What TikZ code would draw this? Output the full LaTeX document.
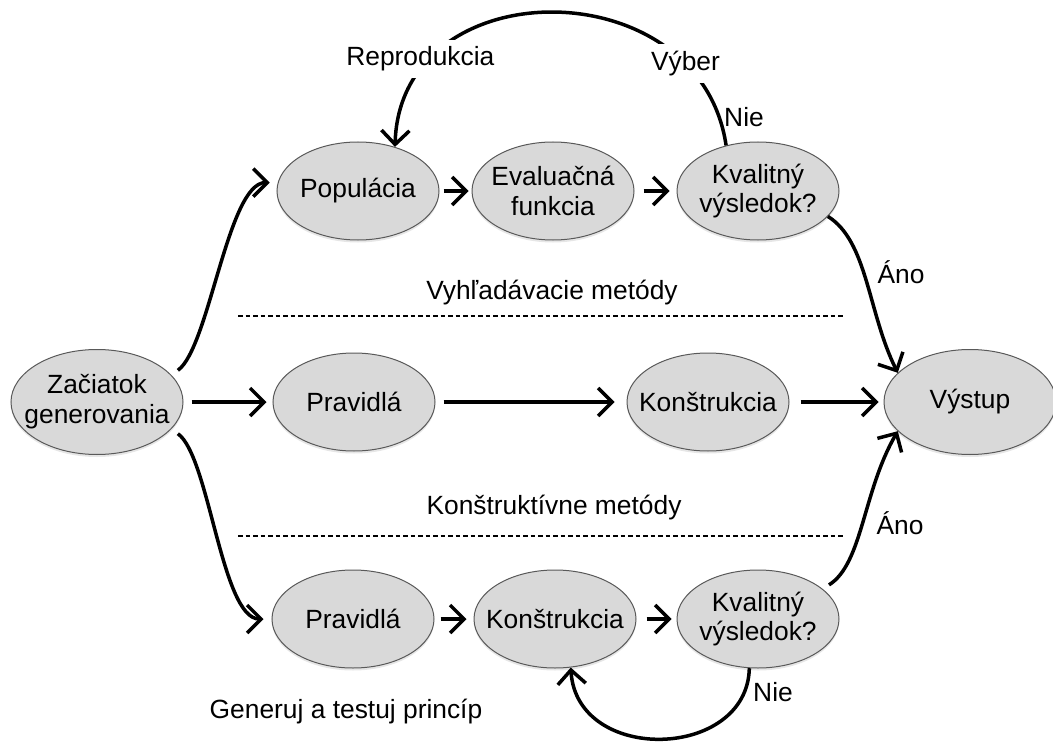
\documentclass[tikz,border=0pt]{standalone}
\usepackage{fontspec}
\setmainfont{Liberation Sans}
\usetikzlibrary{shapes.geometric,arrows.meta,shadows}

\tikzset{
  uzol/.style={ellipse, draw=black!65, line width=0.2mm, fill=black!15,
    minimum width=32.4mm, minimum height=19.6mm,
    inner xsep=-3mm, inner ysep=0pt, align=center,
    drop shadow={shadow xshift=0mm, shadow yshift=-0.5mm, opacity=0.2}},
  velky/.style={uzol, minimum width=34.4mm, minimum height=21mm},
  sipka/.style={line width=0.7mm, -{Straight Barb[length=2.8mm,width=5.6mm]}},
  stitok/.style={fill=white, inner sep=1.4mm},
  delic/.style={line width=0.25mm, dash pattern=on 0.9mm off 0.6mm},
}

\begin{document}
\begin{tikzpicture}[x=0.2mm, y=0.2mm, font=\fontsize{15}{17}\selectfont]
\useasboundingbox (0,0) rectangle (1053,745);

% uzly
\node[velky] (zac) at (97,343) {Začiatok\\generovania};
\node[uzol] (pop) at (358,554) {Populácia};
\node[uzol] (eva) at (553,554) {Evaluačná\\funkcia};
\node[uzol] (kvh) at (758,554) {Kvalitný\\výsledok?};
\node[uzol] (pr1) at (354,343) {Pravidlá};
\node[uzol] (ko1) at (708,343) {Konštrukcia};
\node[velky] (vys) at (970,343) {Výstup};
\node[uzol] (pr2) at (353,126) {Pravidlá};
\node[uzol] (ko2) at (555,126) {Konštrukcia};
\node[uzol] (kvd) at (758,126) {Kvalitný\\výsledok?};

% popisy
\node (vyh) at (552,452) {Vyhľadávacie metódy};
\node (kon) at (554,237) {Konštruktívne metódy};
\node (gen) at (346,33) {Generuj a testuj princíp};
\node (nie1) at (744,628) {Nie};
\node (ano1) at (901,473) {Áno};
\node (ano2) at (900,222) {Áno};
\node (nie2) at (773,53) {Nie};

\draw[delic] (238,429) -- (843,429);
\draw[delic] (238,209) -- (843,209);

% spojnice
\draw[sipka, shorten <=1.6mm, shorten >=1.6mm] (zac.20) .. controls +(38,27) and +(-50,0) .. (pop.174);
\draw[sipka, shorten <=1.6mm, shorten >=1.2mm] (zac) -- (pr1);
\draw[sipka, shorten <=1.6mm, shorten >=1.6mm] (zac.-20) .. controls +(38,-27) and +(-50,0) .. (pr2.west);

\draw[sipka, shorten <=0.8mm, shorten >=0.6mm] (pop) -- (eva);
\draw[sipka, shorten <=1.8mm, shorten >=1.4mm] (eva) -- (kvh);
\draw[sipka] (kvh.125) .. controls (700,777) and (400,777) .. (pop.50)
  node[stitok, pos=0.19] (vyb) {Výber}
  node[stitok, pos=0.83, yshift=2.4mm] (rep) {Reprodukcia};
\draw[sipka] (kvh.-20) .. controls +(40,-25) and +(-30,60) .. (vys.158);

\draw[sipka, shorten <=1.6mm, shorten >=2.4mm] (pr1) -- (ko1);
\draw[sipka, shorten <=2.2mm, shorten >=1mm] (ko1) -- (vys);

\draw[sipka, shorten <=1.2mm, shorten >=1.4mm] (pr2) -- (ko2);
\draw[sipka, shorten <=2mm, shorten >=1mm] (ko2) -- (kvd);
\draw[sipka, shorten <=1.5mm] (kvd.25) .. controls +(40,25) and +(-35,-60) .. (vys.-158);
\draw[sipka] (kvd.-100) .. controls +(-2,-92) and +(6,-97) .. (ko2.-72);
\end{tikzpicture}
\end{document}
